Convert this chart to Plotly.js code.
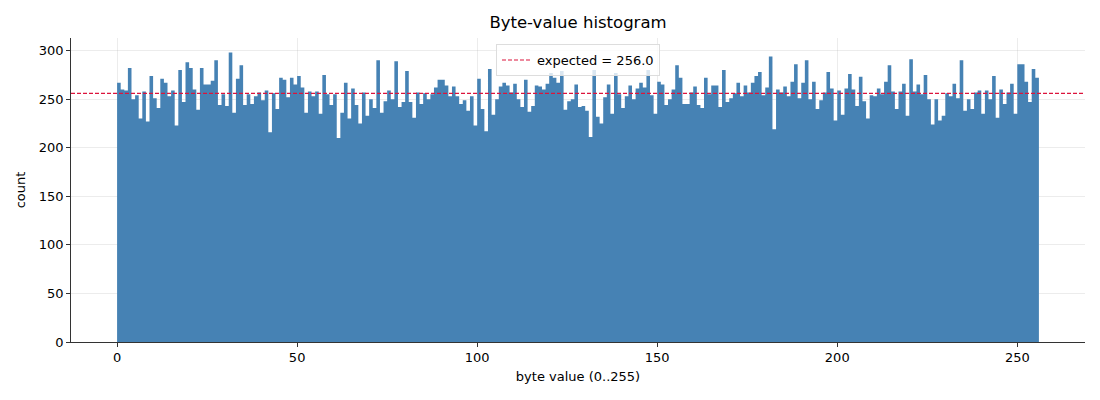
<!DOCTYPE html>
<html>
<head>
<meta charset="utf-8">
<script src="https://cdn.plot.ly/plotly-3.0.1.min.js"></script>
<style>
  html, body { margin: 0; padding: 0; background: #fff; }
  #chart { width: 1100px; height: 400px; }
</style>
</head>
<body>
<div id="chart"></div>
<script>
// counts per byte value 0..255
var counts = [
  267, 260, 259, 282, 250, 254, 230, 258, 227, 274, 251, 241, 271, 267, 253, 259,
  223, 280, 247, 288, 282, 260, 239, 282, 265, 265, 269, 290, 244, 255, 243, 298,
  236, 271, 285, 244, 255, 245, 253, 257, 249, 259, 216, 256, 240, 272, 270, 252,
  272, 265, 274, 262, 236, 258, 253, 258, 235, 275, 255, 244, 255, 210, 236, 267,
  230, 261, 244, 225, 257, 233, 250, 241, 290, 236, 248, 259, 250, 289, 242, 247,
  279, 247, 231, 257, 245, 256, 250, 255, 262, 270, 270, 264, 253, 263, 253, 245,
  249, 238, 253, 223, 271, 240, 217, 281, 234, 250, 263, 267, 264, 257, 266, 250,
  242, 270, 237, 243, 264, 263, 260, 266, 277, 272, 267, 279, 239, 248, 250, 265,
  242, 243, 238, 211, 280, 232, 225, 252, 265, 235, 277, 255, 241, 253, 264, 250,
  261, 267, 262, 280, 254, 235, 268, 265, 244, 250, 260, 285, 272, 245, 245, 257,
  263, 244, 241, 272, 255, 264, 264, 242, 280, 247, 251, 256, 267, 253, 264, 257,
  267, 274, 278, 254, 262, 294, 219, 260, 257, 263, 253, 268, 286, 251, 267, 290,
  250, 268, 240, 249, 257, 278, 261, 228, 259, 234, 261, 276, 260, 243, 273, 248,
  230, 254, 253, 261, 255, 268, 285, 258, 240, 258, 266, 233, 291, 258, 265, 255,
  275, 250, 224, 250, 228, 233, 256, 253, 266, 251, 290, 238, 250, 240, 257, 259,
  235, 259, 250, 274, 231, 260, 245, 257, 266, 235, 286, 286, 268, 247, 281, 272
];
var expected = 256.0;
var xTicks = [0, 50, 100, 150, 200, 250];
var yTicks = [0, 50, 100, 150, 200, 250, 300];

var xRange = [-12.8, 268.8];
var font = 'DejaVu Sans, Liberation Sans, sans-serif';
var barColor = 'rgb(70,130,180)';

// bin edges 0..256; step outline filled to zero so adjacent bins touch
var edges = [];
for (var i = 0; i <= counts.length; i++) edges.push(i);
var stepY = counts.concat([counts[counts.length - 1]]);

var bars = {
  type: 'scatter',
  mode: 'lines',
  x: [0].concat(edges, [counts.length]),
  y: [0].concat(stepY, [0]),
  line: { shape: 'hv', color: barColor, width: 0 },
  fill: 'toself',
  fillcolor: barColor,
  showlegend: false,
  hoverinfo: 'skip'
};

var expectedLine = {
  type: 'scatter',
  mode: 'lines',
  x: xRange,
  y: [expected, expected],
  name: 'expected = ' + expected.toFixed(1),
  line: { color: 'crimson', width: 1.1, dash: '4px,2px' }
};

var layout = {
  width: 1100,
  height: 400,
  margin: { l: 71, r: 15, t: 38, b: 58 },
  paper_bgcolor: '#fff',
  plot_bgcolor: '#fff',
  font: { family: font, size: 13, color: '#000' },
  title: {
    text: 'Byte-value histogram',
    font: { family: font, size: 16.5, color: '#000' },
    x: 0.5, xref: 'paper', xanchor: 'center',
    y: 1, yref: 'container', yanchor: 'top', pad: { t: 16 }
  },
  xaxis: {
    range: xRange,
    tickvals: xTicks,
    ticks: 'outside', ticklen: 4, tickwidth: 0.8, tickcolor: '#000',
    showline: true, linecolor: '#000', linewidth: 0.8,
    showgrid: true, gridcolor: 'rgba(176,176,176,0.3)', gridwidth: 0.8,
    zeroline: false,
    layer: 'above traces',
    tickfont: { size: 13 },
    title: { text: 'byte value (0..255)', font: { size: 13 }, standoff: 7 }
  },
  yaxis: {
    range: [0, 313],
    tickvals: yTicks,
    ticks: 'outside', ticklen: 4, tickwidth: 0.8, tickcolor: '#000',
    showline: true, linecolor: '#000', linewidth: 0.8,
    showgrid: true, gridcolor: 'rgba(176,176,176,0.3)', gridwidth: 0.8,
    zeroline: false,
    layer: 'above traces',
    tickfont: { size: 13 },
    title: { text: 'count', font: { size: 13 }, standoff: 10 }
  },
  showlegend: true,
  legend: {
    x: 0.5, xanchor: 'center',
    y: 0.98, yanchor: 'top',
    bgcolor: 'rgba(255,255,255,0.8)',
    bordercolor: '#dddddd', borderwidth: 1,
    font: { size: 13 }
  }
};

Plotly.newPlot('chart', [bars, expectedLine], layout, { displayModeBar: false, staticPlot: true });
</script>
</body>
</html>
